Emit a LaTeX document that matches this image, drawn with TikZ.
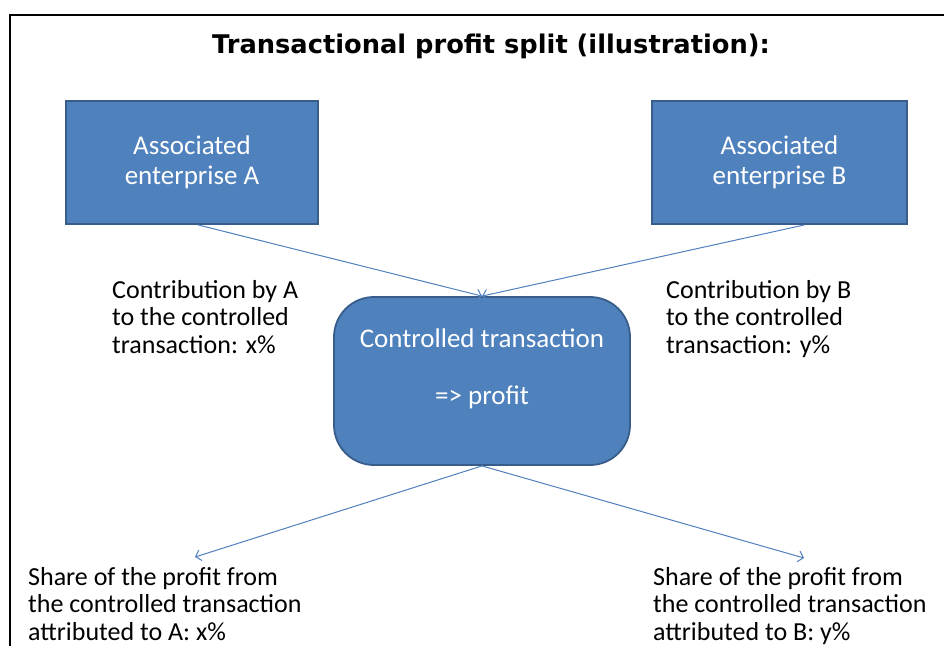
\documentclass[tikz,border=0pt]{standalone}
\usepackage{fontspec}
\setmainfont{Carlito}
\newfontfamily\titlefont{DejaVu Sans}
\usetikzlibrary{calc,arrows.meta}
\definecolor{boxfill}{RGB}{79,129,189}
\definecolor{boxedge}{RGB}{56,93,138}
\definecolor{arrline}{RGB}{80,128,190}
\tikzset{
  entbox/.style={draw=boxedge, line width=1.8pt, fill=boxfill, text=white,
    minimum width=252pt, minimum height=123pt, inner sep=0pt, align=center,
    font=\fontsize{27}{30}\selectfont},
  ctrlbox/.style={entbox, minimum width=296pt, minimum height=168pt,
    rounded corners=40pt, font=\fontsize{27}{28.5}\selectfont},
  lbl/.style={anchor=north west, inner sep=0pt, align=left,
    font=\fontsize{26}{27.5}\selectfont},
  flow/.style={draw=arrline, line width=1pt,
    -{Straight Barb[length=5pt,width=11pt]}}
}
\begin{document}
\begin{tikzpicture}[x=1pt,y=-1pt]
\useasboundingbox (0,0) rectangle (944,645);
\fill[white] (0,0) rectangle (944,645);
% frame
\draw[line width=2pt] (10,647) -- (10,15) -- (946,15);
\node (title) at (491,46) {\titlefont\fontsize{25.7}{30}\selectfont\bfseries Transactional profit split (illustration):};
% boxes
\node[entbox] (entA) at (192,162.5) {Associated\\enterprise A};
\node[entbox, minimum width=255pt] (entB) at (779.5,162.5) {Associated\\enterprise B};
\node[ctrlbox] (ctrl) at (482,381) {Controlled transaction\\[28.5pt]=> profit\\~};
% labels
\node[lbl] (contA) at (112,280) {Contribution by A\\to the controlled\\transaction: x\%};
\node[lbl] (contB) at (666,280) {Contribution by B\\to the controlled\\transaction: y\%};
\node[lbl] (shareA) at (28,567) {Share of the profit from\\the controlled transaction\\attributed to A: x\%};
\node[lbl] (shareB) at (653,567) {Share of the profit from\\the controlled transaction\\attributed to B: y\%};
% arrows
\coordinate (endA) at (195,557);
\coordinate (endB) at (804,558);
\draw[flow] ($(entA.south)+(6,0)$) -- (ctrl.north);
\draw[flow] ($(entB.south)+(25,0)$) -- (ctrl.north);
\draw[flow] (ctrl.south) -- (endA);
\draw[flow] (ctrl.south) -- (endB);
\end{tikzpicture}
\end{document}
